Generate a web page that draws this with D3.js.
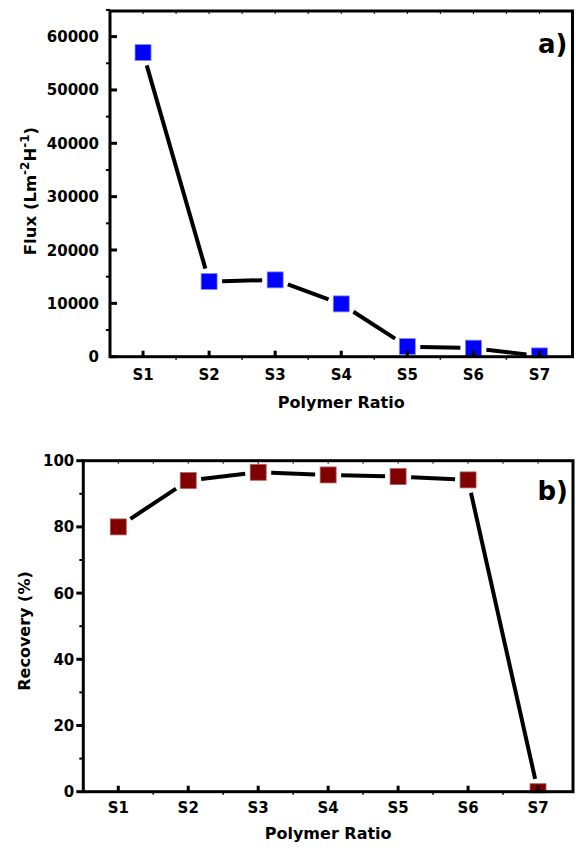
<!DOCTYPE html>
<html>
<head>
<meta charset="utf-8">
<script src="https://cdn.jsdelivr.net/npm/d3@7"></script>
<style>
  body { margin: 0; background: #fff; }
  svg { font-family: "DejaVu Sans", sans-serif; font-weight: bold; }
</style>
</head>
<body>
<svg id="chart" width="576" height="848"></svg>
<script>
// data
var samples = ["S1", "S2", "S3", "S4", "S5", "S6", "S7"];
var fluxValues = [57000, 14100, 14400, 9900, 1900, 1600, 150];
var recoveryValues = [80, 94, 96.5, 95.7, 95.2, 94.2, 0];
var fluxTicks = [0, 10000, 20000, 30000, 40000, 50000, 60000];
var recoveryTicks = [0, 20, 40, 60, 80, 100];

var svg = d3.select("#chart");

// draws one panel
function panel(cfg) {
    var g = svg.append("g");
    var x = d3.scaleLinear().domain([0.5, 7.5]).range([cfg.left, cfg.right]);
    var y = d3.scaleLinear().domain(cfg.yDomain).range([cfg.bottom, cfg.top]);
    var pts = cfg.values.map(function(v, i) { return [x(i + 1), y(v)]; });

    // connecting lines, shortened so they stop short of markers
    var half = 8, gap = 5;
    for (var i = 0; i < pts.length - 1; i++) {
        var p = pts[i], q = pts[i + 1];
        var dx = q[0] - p[0], dy = q[1] - p[1];
        var len = Math.sqrt(dx * dx + dy * dy);
        var cut = half / Math.max(Math.abs(dx), Math.abs(dy)) * len + gap;
        if (len <= 2 * cut) continue;
        var ux = dx / len, uy = dy / len;
        g.append("line")
            .attr("x1", p[0] + ux * cut).attr("y1", p[1] + uy * cut)
            .attr("x2", q[0] - ux * cut).attr("y2", q[1] - uy * cut)
            .attr("stroke", "#000").attr("stroke-width", 4);
    }

    // markers
    g.selectAll(".mk").data(pts).join("rect")
        .attr("class", "mk")
        .attr("x", function(d) { return d[0] - half; })
        .attr("y", function(d) { return d[1] - half; })
        .attr("width", half * 2).attr("height", half * 2)
        .attr("fill", cfg.color)
        .attr("stroke", cfg.edge).attr("stroke-width", 0.8);

    // white mask below x axis for clipped markers
    g.append("rect").attr("x", cfg.left).attr("y", cfg.bottom + 1.5)
        .attr("width", cfg.right - cfg.left).attr("height", 12).attr("fill", "#fff");

    // frame
    g.append("rect")
        .attr("x", cfg.left).attr("y", cfg.top)
        .attr("width", cfg.right - cfg.left).attr("height", cfg.bottom - cfg.top)
        .attr("fill", "none").attr("stroke", "#000").attr("stroke-width", 3);

    // y ticks
    var yt = cfg.yTicks;
    g.selectAll(".ytick").data(yt).join("line")
        .attr("x1", cfg.left).attr("x2", cfg.left + cfg.yTickDir * 7)
        .attr("y1", function(d) { return y(d); }).attr("y2", function(d) { return y(d); })
        .attr("stroke", "#000").attr("stroke-width", 3);
    var ymin = [];
    for (var k = 0; k < yt.length - 1; k++) ymin.push((yt[k] + yt[k + 1]) / 2);
    if (cfg.yMinorTop) ymin.push(yt[yt.length - 1] + (yt[1] - yt[0]) / 2);
    g.selectAll(".yminor").data(ymin).join("line")
        .attr("x1", cfg.left).attr("x2", cfg.left - 4)
        .attr("y1", function(d) { return y(d); }).attr("y2", function(d) { return y(d); })
        .attr("stroke", "#000").attr("stroke-width", 2);
    g.selectAll(".ylab").data(yt).join("text")
        .attr("x", cfg.left - cfg.yLabGap)
        .attr("y", function(d) { return y(d) + 5.5; })
        .attr("text-anchor", "end").attr("font-size", 15)
        .text(function(d) { return d; });

    // x ticks
    g.selectAll(".xtick").data(samples).join("line")
        .attr("x1", function(d, i) { return x(i + 1); }).attr("x2", function(d, i) { return x(i + 1); })
        .attr("y1", cfg.bottom).attr("y2", cfg.bottom - 6)
        .attr("stroke", "#000").attr("stroke-width", 3);
    var xmin = d3.range(1.5, 7.5, 1);
    g.selectAll(".xminor").data(xmin).join("line")
        .attr("x1", function(d) { return x(d); }).attr("x2", function(d) { return x(d); })
        .attr("y1", cfg.bottom).attr("y2", cfg.bottom + 3)
        .attr("stroke", "#000").attr("stroke-width", 1.5);
    g.selectAll(".xtop").data(d3.range(1, 7.5, 0.5)).join("line")
        .attr("x1", function(d) { return x(d); }).attr("x2", function(d) { return x(d); })
        .attr("y1", cfg.top).attr("y2", cfg.top + 3)
        .attr("stroke", "#000").attr("stroke-width", 1);
    g.selectAll(".xlab").data(samples).join("text")
        .attr("x", function(d, i) { return x(i + 1); })
        .attr("y", cfg.bottom + cfg.xLabDy)
        .attr("text-anchor", "middle").attr("font-size", 15)
        .text(function(d) { return d; });

    // axis titles
    g.append("text")
        .attr("x", (cfg.left + cfg.right) / 2).attr("y", cfg.bottom + cfg.xTitleDy)
        .attr("text-anchor", "middle").attr("font-size", 16)
        .text("Polymer Ratio");
    var yl = g.append("text")
        .attr("transform", "translate(" + cfg.yLabelX + "," + cfg.yLabelY + ") rotate(-90)")
        .attr("text-anchor", "middle").attr("font-size", 16);
    cfg.yLabel(yl);

    // panel letter
    g.append("text")
        .attr("x", cfg.right - 5).attr("y", cfg.top + cfg.letterDy)
        .attr("text-anchor", "end").attr("font-size", 26)
        .text(cfg.letter);
}

panel({
    left: 110, right: 572.5, top: 11, bottom: 356.7,
    yDomain: [0, 64800], yTicks: fluxTicks, yTickDir: 1, yMinorTop: true, yLabGap: 11,
    values: fluxValues, color: "#0000ff", edge: "#8888ff",
    xLabDy: 23, xTitleDy: 51,
    yLabelX: 36, yLabelY: 191, letter: "a)", letterDy: 42,
    yLabel: function(t) {
        t.attr("font-size", 16.5);
        t.append("tspan").text("Flux (Lm");
        t.append("tspan").attr("dy", -7).attr("font-size", 12).text("-2");
        t.append("tspan").attr("dy", 7).text("H");
        t.append("tspan").attr("dy", -7).attr("font-size", 12).text("-1");
        t.append("tspan").attr("dy", 7).text(")");
    }
});

panel({
    left: 83.3, right: 573, top: 460.7, bottom: 791.7,
    yDomain: [0, 100], yTicks: recoveryTicks, yTickDir: -1, yMinorTop: false, yLabGap: 9,
    values: recoveryValues, color: "#800000", edge: "#b06060",
    xLabDy: 21, xTitleDy: 47,
    yLabelX: 30, yLabelY: 631, letter: "b)", letterDy: 39,
    yLabel: function(t) { t.text("Recovery (%)"); }
});
</script>
</body>
</html>
